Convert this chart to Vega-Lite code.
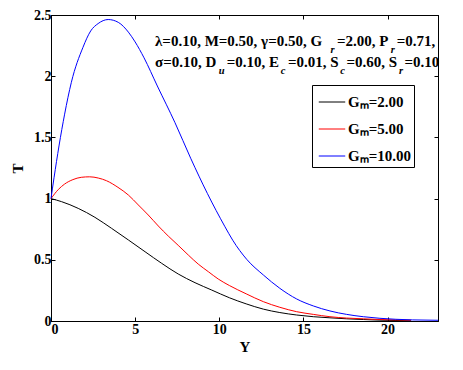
{
  "$schema": "https://vega.github.io/schema/vega-lite/v6.json",
  "width": 387,
  "height": 306,
  "autosize": {"type": "none"},
  "padding": {"left": 51, "top": 15, "right": 25, "bottom": 49},
  "background": "white",
  "config": {
    "view": {"stroke": "black", "strokeWidth": 1},
    "font": "Liberation Serif",
    "axis": {
      "domainColor": "black",
      "domainWidth": 1,
      "tickColor": "black",
      "tickWidth": 1,
      "tickSize": -4,
      "grid": false,
      "labelFont": "Liberation Serif",
      "labelFontSize": 14,
      "labelFontWeight": "bold",
      "labelColor": "black",
      "titleFont": "Liberation Serif",
      "titleFontSize": 15,
      "titleFontWeight": "bold",
      "titleColor": "black"
    }
  },
  "datasets": {
    "curves": [
      {"Gm": "2.00", "Y": 0, "T": 1.0},
      {"Gm": "2.00", "Y": 0.63, "T": 0.975},
      {"Gm": "2.00", "Y": 1.62, "T": 0.92},
      {"Gm": "2.00", "Y": 2.61, "T": 0.847},
      {"Gm": "2.00", "Y": 3.6, "T": 0.757},
      {"Gm": "2.00", "Y": 4.6, "T": 0.662},
      {"Gm": "2.00", "Y": 5.59, "T": 0.566},
      {"Gm": "2.00", "Y": 6.58, "T": 0.471},
      {"Gm": "2.00", "Y": 7.56, "T": 0.384},
      {"Gm": "2.00", "Y": 8.56, "T": 0.313},
      {"Gm": "2.00", "Y": 9.55, "T": 0.253},
      {"Gm": "2.00", "Y": 10.6, "T": 0.19},
      {"Gm": "2.00", "Y": 11.6, "T": 0.14},
      {"Gm": "2.00", "Y": 12.62, "T": 0.097},
      {"Gm": "2.00", "Y": 13.6, "T": 0.069},
      {"Gm": "2.00", "Y": 14.6, "T": 0.049},
      {"Gm": "2.00", "Y": 15.59, "T": 0.035},
      {"Gm": "2.00", "Y": 16.58, "T": 0.026},
      {"Gm": "2.00", "Y": 17.57, "T": 0.018},
      {"Gm": "2.00", "Y": 18.56, "T": 0.012},
      {"Gm": "2.00", "Y": 19.55, "T": 0.007},
      {"Gm": "2.00", "Y": 20.5, "T": 0.004},
      {"Gm": "2.00", "Y": 21.4, "T": 0.002},
      {"Gm": "5.00", "Y": 0, "T": 1.0},
      {"Gm": "5.00", "Y": 0.44, "T": 1.075},
      {"Gm": "5.00", "Y": 0.81, "T": 1.119},
      {"Gm": "5.00", "Y": 1.3, "T": 1.155},
      {"Gm": "5.00", "Y": 1.8, "T": 1.174},
      {"Gm": "5.00", "Y": 2.3, "T": 1.178},
      {"Gm": "5.00", "Y": 2.81, "T": 1.168},
      {"Gm": "5.00", "Y": 3.3, "T": 1.146},
      {"Gm": "5.00", "Y": 3.98, "T": 1.092},
      {"Gm": "5.00", "Y": 4.6, "T": 1.029},
      {"Gm": "5.00", "Y": 5.19, "T": 0.948},
      {"Gm": "5.00", "Y": 5.78, "T": 0.866},
      {"Gm": "5.00", "Y": 6.38, "T": 0.776},
      {"Gm": "5.00", "Y": 6.97, "T": 0.694},
      {"Gm": "5.00", "Y": 7.56, "T": 0.618},
      {"Gm": "5.00", "Y": 8.16, "T": 0.539},
      {"Gm": "5.00", "Y": 8.75, "T": 0.465},
      {"Gm": "5.00", "Y": 9.35, "T": 0.403},
      {"Gm": "5.00", "Y": 9.94, "T": 0.343},
      {"Gm": "5.00", "Y": 10.6, "T": 0.29},
      {"Gm": "5.00", "Y": 11.6, "T": 0.222},
      {"Gm": "5.00", "Y": 12.62, "T": 0.158},
      {"Gm": "5.00", "Y": 13.6, "T": 0.112},
      {"Gm": "5.00", "Y": 14.6, "T": 0.076},
      {"Gm": "5.00", "Y": 15.59, "T": 0.054},
      {"Gm": "5.00", "Y": 16.58, "T": 0.035},
      {"Gm": "5.00", "Y": 17.57, "T": 0.024},
      {"Gm": "5.00", "Y": 18.56, "T": 0.018},
      {"Gm": "5.00", "Y": 19.55, "T": 0.012},
      {"Gm": "5.00", "Y": 21.4, "T": 0.007},
      {"Gm": "10.00", "Y": 0, "T": 1.0},
      {"Gm": "10.00", "Y": 0.18, "T": 1.17},
      {"Gm": "10.00", "Y": 0.475, "T": 1.43},
      {"Gm": "10.00", "Y": 0.81, "T": 1.69},
      {"Gm": "10.00", "Y": 1.21, "T": 1.95},
      {"Gm": "10.00", "Y": 1.9, "T": 2.236},
      {"Gm": "10.00", "Y": 2.36, "T": 2.37},
      {"Gm": "10.00", "Y": 2.8, "T": 2.43},
      {"Gm": "10.00", "Y": 3.4, "T": 2.463},
      {"Gm": "10.00", "Y": 4.0, "T": 2.44},
      {"Gm": "10.00", "Y": 4.6, "T": 2.36},
      {"Gm": "10.00", "Y": 5.0, "T": 2.28},
      {"Gm": "10.00", "Y": 5.53, "T": 2.15},
      {"Gm": "10.00", "Y": 6.32, "T": 1.92},
      {"Gm": "10.00", "Y": 7.37, "T": 1.62},
      {"Gm": "10.00", "Y": 8.3, "T": 1.33},
      {"Gm": "10.00", "Y": 9.29, "T": 1.043},
      {"Gm": "10.00", "Y": 10.34, "T": 0.77},
      {"Gm": "10.00", "Y": 10.8, "T": 0.66},
      {"Gm": "10.00", "Y": 11.63, "T": 0.504},
      {"Gm": "10.00", "Y": 12.62, "T": 0.376},
      {"Gm": "10.00", "Y": 13.6, "T": 0.267},
      {"Gm": "10.00", "Y": 14.6, "T": 0.18},
      {"Gm": "10.00", "Y": 15.59, "T": 0.123},
      {"Gm": "10.00", "Y": 16.58, "T": 0.082},
      {"Gm": "10.00", "Y": 17.57, "T": 0.054},
      {"Gm": "10.00", "Y": 18.56, "T": 0.035},
      {"Gm": "10.00", "Y": 19.55, "T": 0.022},
      {"Gm": "10.00", "Y": 20.5, "T": 0.014},
      {"Gm": "10.00", "Y": 21.5, "T": 0.009},
      {"Gm": "10.00", "Y": 23, "T": 0.006}
    ],
    "notes": [
      {"kind": "main", "x": 6.181, "y": 2.2467, "text": "λ=0.10, M=0.50, γ=0.50, G"},
      {"kind": "main", "x": 16.99, "y": 2.2467, "text": "=2.00, P"},
      {"kind": "main", "x": 20.55, "y": 2.2467, "text": "=0.71,"},
      {"kind": "sub", "x": 16.74, "y": 2.19, "text": "r"},
      {"kind": "sub", "x": 20.32, "y": 2.19, "text": "r"},
      {"kind": "main", "x": 6.181, "y": 2.078, "text": "σ=0.10, D"},
      {"kind": "main", "x": 10.442, "y": 2.078, "text": "=0.10, E"},
      {"kind": "main", "x": 14.085, "y": 2.078, "text": "=0.01, S"},
      {"kind": "main", "x": 17.562, "y": 2.078, "text": "=0.60, S"},
      {"kind": "main", "x": 21.009, "y": 2.078, "text": "=0.10"},
      {"kind": "sub", "x": 10.145, "y": 2.015, "text": "u"},
      {"kind": "sub", "x": 13.788, "y": 2.015, "text": "c"},
      {"kind": "sub", "x": 17.324, "y": 2.015, "text": "c"},
      {"kind": "sub", "x": 20.801, "y": 2.015, "text": "r"}
    ]
  },
  "resolve": {"axis": {"x": "independent", "y": "independent"}},
  "layer": [
    {
      "data": {"name": "curves"},
      "mark": {"type": "line", "strokeWidth": 1, "interpolate": "monotone"},
      "encoding": {
        "x": {
          "field": "Y", "type": "quantitative",
          "scale": {"domain": [0, 23], "nice": false, "zero": false},
          "axis": {"title": "Y", "values": [0, 5, 10, 15, 20], "labelPadding": 5, "titlePadding": 3}
        },
        "y": {
          "field": "T", "type": "quantitative",
          "scale": {"domain": [0, 2.5], "nice": false},
          "axis": {"title": "T", "values": [0, 0.5, 1, 1.5, 2, 2.5], "format": "~g", "labelPadding": 4, "titlePadding": 8}
        },
        "color": {
          "field": "Gm", "type": "nominal",
          "scale": {"domain": ["2.00", "5.00", "10.00"], "range": ["#000000", "#ff0000", "#0000ff"]},
          "legend": {
            "title": null,
            "orient": "none",
            "legendX": 261,
            "legendY": 70,
            "direction": "vertical",
            "strokeColor": "black",
            "fillColor": "white",
            "padding": 3,
            "symbolType": "stroke",
            "symbolSize": 700,
            "symbolStrokeWidth": 1,
            "symbolOffset": 3,
            "labelOffset": 2,
            "rowPadding": 5,
            "labelFont": "Liberation Serif",
            "labelFontSize": 15,
            "labelFontWeight": "bold",
            "labelColor": "black",
            "labelExpr": "'Gₘ=' + datum.label"
          }
        }
      }
    },
    {
      "data": {"name": "curves"},
      "mark": {"type": "point", "opacity": 0},
      "encoding": {
        "x": {
          "field": "Y", "type": "quantitative",
          "scale": {"domain": [0, 23], "nice": false, "zero": false},
          "axis": {"orient": "top", "title": null, "labels": false, "values": [0, 5, 10, 15, 20]}
        },
        "y": {
          "field": "T", "type": "quantitative",
          "scale": {"domain": [0, 2.5], "nice": false},
          "axis": {"orient": "right", "title": null, "labels": false, "values": [0, 0.5, 1, 1.5, 2, 2.5]}
        }
      }
    },
    {
      "data": {"name": "notes"},
      "transform": [{"filter": "datum.kind == 'main'"}],
      "mark": {"type": "text", "align": "left", "baseline": "alphabetic", "font": "Liberation Serif", "fontSize": 15, "fontWeight": "bold", "color": "black"},
      "encoding": {
        "x": {"field": "x", "type": "quantitative", "scale": {"domain": [0, 23], "nice": false, "zero": false}, "axis": null},
        "y": {"field": "y", "type": "quantitative", "scale": {"domain": [0, 2.5], "nice": false}, "axis": null},
        "text": {"field": "text"}
      }
    },
    {
      "data": {"name": "notes"},
      "transform": [{"filter": "datum.kind == 'sub'"}],
      "mark": {"type": "text", "align": "center", "baseline": "alphabetic", "font": "Liberation Serif", "fontSize": 10.5, "fontWeight": "bold", "fontStyle": "italic", "color": "black"},
      "encoding": {
        "x": {"field": "x", "type": "quantitative", "scale": {"domain": [0, 23], "nice": false, "zero": false}, "axis": null},
        "y": {"field": "y", "type": "quantitative", "scale": {"domain": [0, 2.5], "nice": false}, "axis": null},
        "text": {"field": "text"}
      }
    }
  ]
}
